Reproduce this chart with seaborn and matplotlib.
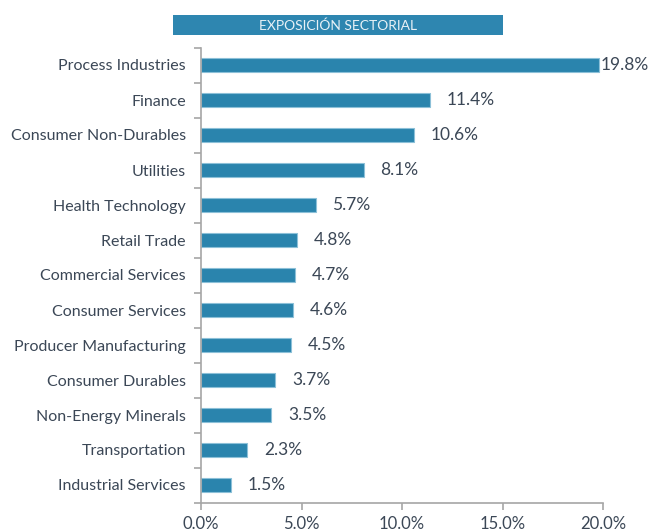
import numpy as np
import pandas as pd
import matplotlib
matplotlib.use("Agg")
import matplotlib.pyplot as plt
import seaborn as sns

sectors = ["Process Industries", "Finance", "Consumer Non-Durables", "Utilities",
           "Health Technology", "Retail Trade", "Commercial Services",
           "Consumer Services", "Producer Manufacturing", "Consumer Durables",
           "Non-Energy Minerals", "Transportation", "Industrial Services"]
weights = [19.8, 11.4, 10.6, 8.1, 5.7, 4.8, 4.7, 4.6, 4.5, 3.7, 3.5, 2.3, 1.5]
x_ticks = [0, 5, 10, 15, 20]
title = "EXPOSICIÓN SECTORIAL"

bar_color = "#2a84ad"
text_color = "#3b4756"
axis_color = "#a6a6a6"

sns.set_style("white")
plt.rcParams["font.family"] = ["Lato", "DejaVu Sans"]

df = pd.DataFrame({"sector": sectors, "weight": weights})

fig = plt.figure(figsize=(6.53, 5.32), dpi=100)
ax = fig.add_axes([201 / 653, 1 - 502.5 / 532, 402 / 653, 455 / 532])

sns.barplot(data=df, x="weight", y="sector", color=bar_color, saturation=1,
            width=0.42, edgecolor="#8cc0d8", linewidth=0.8, ax=ax)

ax.set_xlim(0, 20)
ax.set_xticks(x_ticks)
ax.set_xticklabels([f"{t:.1f}%" for t in x_ticks], fontsize=12, color=text_color)
ax.set_ylim(len(sectors) - 0.5, -0.5)
ax.set_yticks(np.arange(len(sectors)))
ax.set_yticklabels(sectors, fontsize=11.5, color=text_color)
ax.set_yticks(np.arange(len(sectors) + 1) - 0.5, minor=True)
ax.tick_params(axis="y", which="major", left=True, length=0, pad=11)
ax.tick_params(axis="y", which="minor", left=True, length=5, color=axis_color, width=1.2)
ax.tick_params(axis="x", bottom=True, length=5, color=axis_color, width=1.2, pad=5)
ax.set_xlabel("")
ax.set_ylabel("")

for side in ["top", "right"]:
    ax.spines[side].set_visible(False)
for side in ["left", "bottom"]:
    ax.spines[side].set_color(axis_color)
    ax.spines[side].set_linewidth(1.2)

vmax = max(weights)
for i, v in enumerate(weights):
    off = 1 if v == vmax else 12
    ax.annotate(f"{v:.1f}%", xy=(v, i), xytext=(off, 0), textcoords="offset points",
                ha="left", va="center", fontsize=12.5, color=text_color,
                annotation_clip=False)

# title banner
fig.patches.append(plt.Rectangle((173 / 653, 1 - 35 / 532), 330 / 653, 20 / 532,
                                 transform=fig.transFigure, facecolor="#2e86b0",
                                 edgecolor="none", zorder=-1))
fig.text((173 + 503) / 2 / 653, 1 - 25.5 / 532, title, ha="center", va="center",
         fontsize=10, color="#e8f1f6")

fig.savefig("out.png", dpi=100)
